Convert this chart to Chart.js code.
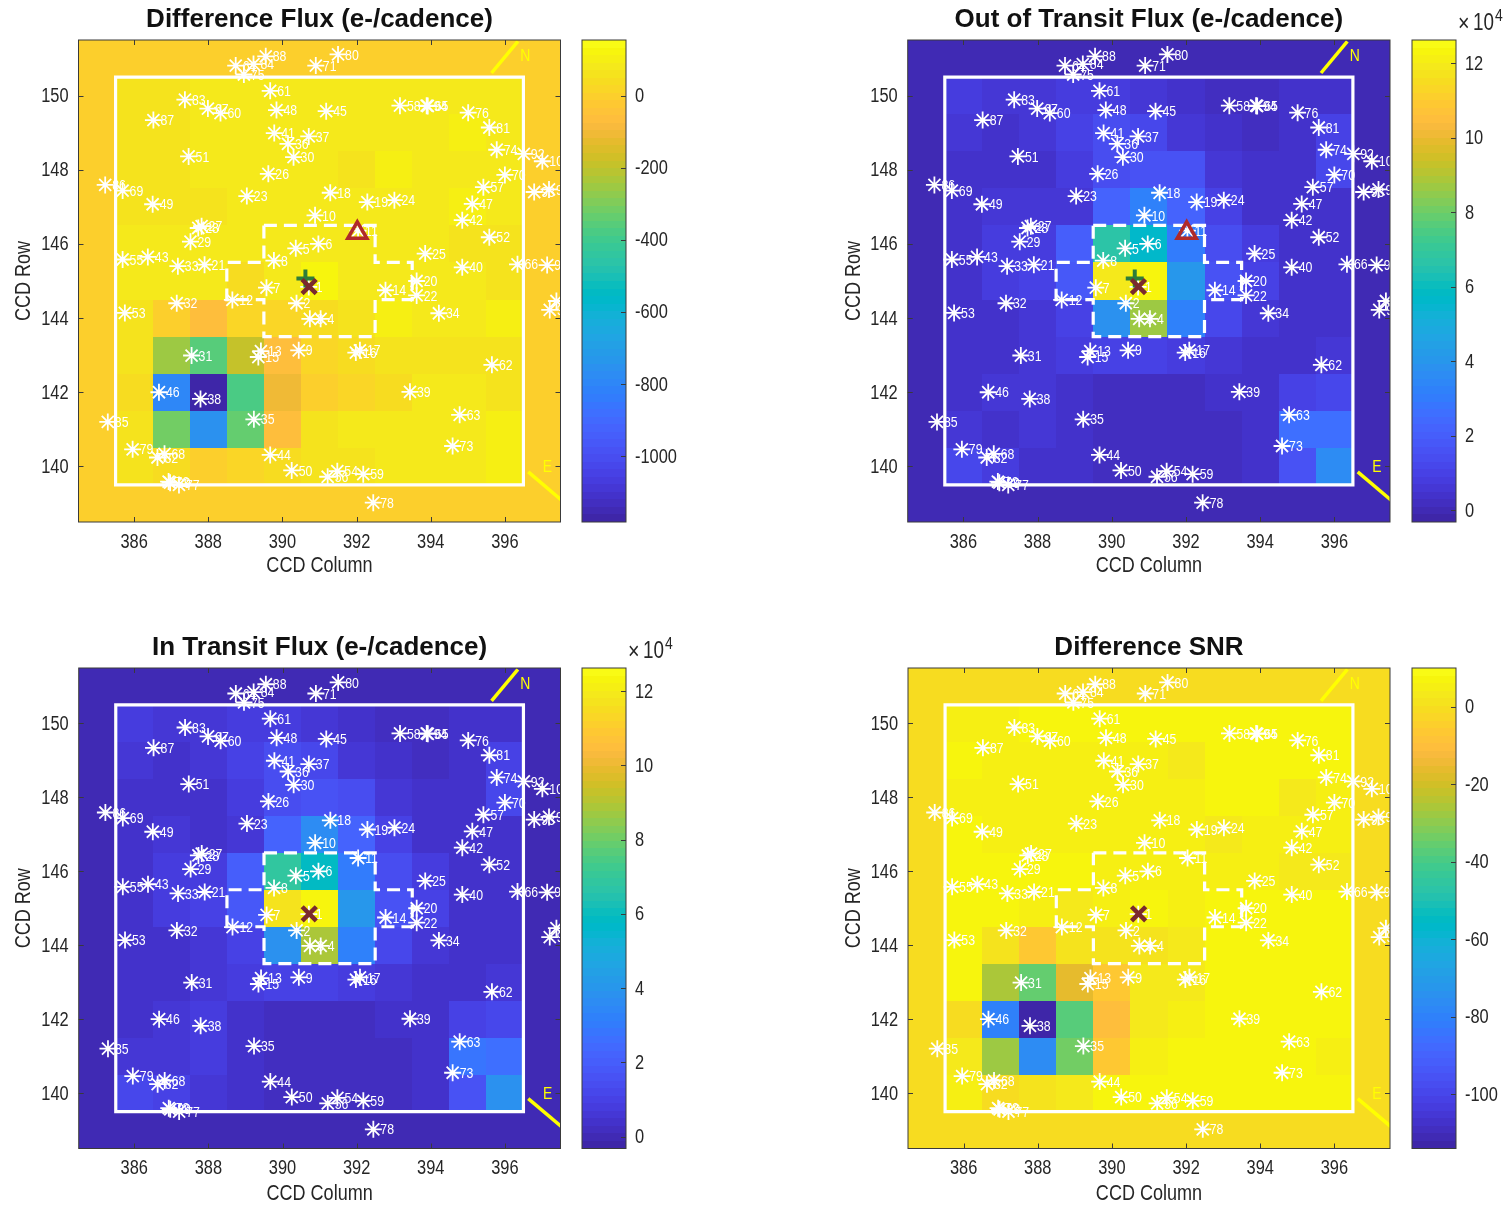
<!DOCTYPE html>
<html><head><meta charset="utf-8">
<script src="https://cdn.jsdelivr.net/npm/chart.js@4"></script>
<style>
html,body{margin:0;padding:0;background:#fff;width:1506px;height:1206px;overflow:hidden}
canvas{position:absolute;display:block}
</style></head><body>
<script>
const columns=[386,387,388,389,390,391,392,393,394,395,396];
const rows=[150,149,148,147,146,145,144,143,142,141,140];
const xTicks=[386,388,390,392,394,396];
const yTicks=[140,142,144,146,148,150];

const diffFlux=[
[70,70,85,90,85,85,85,85,90,85,85],
[70,70,75,75,75,75,75,75,75,95,90],
[70,70,72,72,72,85,65,100,72,72,75],
[70,70,70,72,72,72,72,72,72,95,75],
[72,72,72,72,85,85,75,75,75,70,65],
[72,72,72,35,80,130,85,85,78,75,70],
[70,0,-70,15,25,45,55,110,85,80,105],
[70,-250,-365,-185,-59,25,45,65,70,70,70],
[35,-800,-1183,-380,-110,-5,15,50,80,78,70],
[55,-310,-760,-333,-60,70,72,72,75,80,110],
[60,30,0,25,35,60,65,72,72,72,95]];
const outFlux=[
[.7,.6,.6,.8,.8,.5,.4,.2,.2,.3,.4],
[.5,.45,.5,1.0,1.3,1.1,.6,.3,.15,.35,1.0],
[.4,.4,.4,.7,1.4,1.5,1.5,.6,.4,.4,1.1],
[.45,.6,.5,.5,2.3,3.3,2.2,1.0,.4,.4,.4],
[.4,.7,.8,2.0,6.6,5.7,3.0,1.3,.7,.4,.35],
[.4,.7,.9,1.8,11.9,12.4,4.0,1.5,1.0,.4,.35],
[.4,.4,.6,1.0,3.9,8.7,3.2,1.2,.6,.3,.3],
[.35,.35,.5,.7,1.0,1.0,.8,.5,.4,.3,.6],
[.35,.5,.6,.3,.2,.2,.2,.3,.3,1.0,1.1],
[.6,.4,.5,.3,.2,.15,.2,.15,.3,2.7,2.6],
[1.1,.7,.4,.4,.2,.2,.2,.15,.3,1.5,3.6]];
const inFlux=[
[.7,.6,.6,.8,.8,.5,.35,.15,.15,.3,.35],
[.5,.4,.5,1.0,1.3,1.1,.6,.3,.1,.3,1.0],
[.4,.35,.35,.7,1.4,1.5,1.4,.6,.4,.4,1.1],
[.4,.6,.45,.5,2.3,3.6,2.3,1.0,.4,.4,.4],
[.4,.7,.8,2.1,6.8,5.8,3.0,1.3,.7,.4,.35],
[.4,.7,.9,1.8,11.8,12.4,4.0,1.5,1.0,.4,.35],
[.4,.45,.65,1.0,3.9,8.9,3.2,1.2,.6,.3,.3],
[.35,.35,.55,.75,1.0,1.0,.8,.5,.4,.3,.6],
[.35,.6,.75,.35,.1,.1,.2,.3,.3,1.0,1.1],
[.65,.55,.7,.3,.15,.1,.1,.12,.3,2.8,2.7],
[1.2,.9,.5,.4,.2,.2,.2,.15,.3,1.6,3.8]];
const diffSnr=[
[6,6,8,8,8,8,8,8,8,8,8],
[7,5,5,5,5,6,4,7,7,8,8],
[5,5,5,6,6,6,6,7,7,4,6],
[7,6,6,6,6,6,6,4,6,6,6],
[8,7,7,7,5,5,6,6,5,4,4],
[7,7,6,3,5,7,6,7,8,8,8],
[7,2,-7,1,1,2,3,8,7,8,8],
[8,-26,-35,-17,-6,3,4,7,8,8,8],
[0,-80,-114,-37,-11,3,5,7,8,7,7],
[3,-27,-77,-33,-7,6,8,8,7,7,6],
[6,0,1,4,7,8,8,8,8,8,8]];

const starIds=["88","84","64","75","80","71","61","83","67","60","87","48","45","58","94","65","76","81","41","37","36","30","51","74","92","100","26","70","86","69","57","93","91","49","23","18","19","24","47","10","42","27","28","52","29","5","6","11","55","43","33","21","8","25","40","66","96","7","1","2","14","20","22","12","32","53","34","3","4","13","15","9","16","17","31","62","46","38","39","63","35","85","79","73","68","82","44","50","54","56","59","72","89","77","78","97","98"];
const starCols=[389.55,389.22,388.74,388.96,391.50,390.90,389.67,387.37,387.99,388.33,386.52,389.84,391.18,393.17,393.89,393.92,395.01,395.58,389.78,390.71,390.15,390.30,387.47,395.78,396.51,397.01,389.62,396.00,385.22,385.69,395.42,396.79,397.19,386.50,389.04,391.29,392.29,393.02,395.12,390.88,394.85,387.82,387.73,395.58,387.52,390.36,390.97,392.04,385.69,386.37,387.18,387.90,389.77,393.85,394.85,396.34,397.14,389.57,390.71,390.38,392.78,393.62,393.62,388.65,387.15,385.75,394.22,390.74,391.03,389.42,389.35,390.44,391.98,392.09,387.55,395.65,386.67,387.79,393.44,394.78,389.23,385.29,385.96,394.59,386.82,386.63,389.67,390.25,391.48,391.22,392.18,386.93,386.97,387.21,392.45,397.21,397.39];
const starRows=[151.06,150.85,150.81,150.57,151.11,150.81,150.13,149.89,149.65,149.53,149.34,149.61,149.58,149.73,149.73,149.72,149.54,149.14,148.99,148.90,148.70,148.34,148.36,148.54,148.43,148.23,147.89,147.86,147.59,147.44,147.53,147.40,147.47,147.07,147.29,147.38,147.13,147.18,147.08,146.77,146.64,146.48,146.43,146.18,146.06,145.88,146.00,146.36,145.58,145.65,145.40,145.44,145.55,145.74,145.37,145.45,145.43,144.82,144.84,144.40,144.75,145.00,144.61,144.49,144.40,144.14,144.13,143.98,143.98,143.11,142.95,143.13,143.07,143.13,142.99,142.74,142.00,141.82,142.01,141.39,141.27,141.20,140.46,140.55,140.34,140.24,140.31,139.89,139.87,139.72,139.79,139.59,139.56,139.50,139.02,144.22,144.46];

const boxCols=[385.5,396.5,396.5,385.5,385.5];
const boxRows=[139.5,139.5,150.5,150.5,139.5];
const apCols=[389.5,392.5,392.5,393.5,393.5,392.5,392.5,389.5,389.5,388.5,388.5,389.5,389.5];
const apRows=[146.5,146.5,145.5,145.5,144.5,144.5,143.5,143.5,144.5,144.5,145.5,145.5,146.5];
const northCols=[395.64,396.35], northRows=[150.61,151.46];
const eastCols=[396.63,397.55], eastRows=[139.85,139.07];
const compassLabels=[["N",396.55,151.08],["E",397.15,140.0]];
const targetCol=[390.72], targetRow=[144.85];
const centroidCol=[390.62], centroidRow=[145.07];
const triCol=[392.02], triRow=[146.30];

const parula=[[.2422,.1504,.6603],[.2504,.1650,.7076],[.2578,.1818,.7511],[.2647,.1978,.7952],[.2706,.2147,.8364],[.2751,.2342,.8710],[.2783,.2559,.8991],[.2803,.2782,.9221],[.2813,.3006,.9414],[.2810,.3228,.9579],[.2795,.3447,.9717],[.2760,.3667,.9829],[.2699,.3892,.9906],[.2602,.4123,.9952],[.2440,.4358,.9988],[.2206,.4603,.9973],[.1963,.4847,.9892],[.1834,.5074,.9798],[.1786,.5289,.9682],[.1764,.5499,.9520],[.1687,.5703,.9359],[.1540,.5902,.9218],[.1460,.6091,.9079],[.1380,.6276,.8973],[.1248,.6459,.8883],[.1113,.6635,.8763],[.0952,.6798,.8598],[.0689,.6948,.8394],[.0297,.7082,.8163],[.0036,.7203,.7917],[.0067,.7312,.7660],[.0433,.7411,.7394],[.0964,.7500,.7120],[.1408,.7584,.6842],[.1717,.7670,.6554],[.1938,.7758,.6251],[.2161,.7843,.5923],[.2470,.7918,.5567],[.2906,.7973,.5188],[.3406,.8008,.4789],[.3909,.8029,.4354],[.4456,.8024,.3909],[.5044,.7993,.3480],[.5616,.7942,.3045],[.6174,.7876,.2612],[.6720,.7793,.2227],[.7242,.7698,.1910],[.7738,.7598,.1646],[.8203,.7498,.1535],[.8634,.7406,.1596],[.9035,.7330,.1774],[.9393,.7288,.2100],[.9728,.7298,.2394],[.9956,.7434,.2371],[.9970,.7659,.2199],[.9952,.7861,.1971],[.9892,.8136,.1721],[.9786,.8392,.1494],[.9676,.8639,.1246],[.9610,.8890,.1154],[.9597,.9135,.1066],[.9628,.9373,.0761],[.9691,.9606,.0505],[.9769,.9839,.0805]];
const mapColor=i=>{const c=parula[i];return `rgb(${Math.round(c[0]*255)},${Math.round(c[1]*255)},${Math.round(c[2]*255)})`;};
const valColor=(v,lo,hi)=>mapColor(Math.max(0,Math.min(63,Math.floor((v-lo)/(hi-lo)*64))));

const SANS='"Liberation Sans",sans-serif';
const INK='#262626';
const CONDENSE=0.82;

const panels=[
 {title:"Difference Flux (e-/cadence)",grid:diffFlux,lo:-1183,hi:155,cbTicks:[-1000,-800,-600,-400,-200,0],left:78.5,right:560.5,top:0,h:482,extra:true,exp:false,cbLeft:582},
 {title:"Out of Transit Flux (e-/cadence)",grid:outFlux,lo:-.32,hi:12.62,cbTicks:[0,2,4,6,8,10,12],left:907.7,right:1390,top:0,h:482,extra:true,exp:true,cbLeft:1412},
 {title:"In Transit Flux (e-/cadence)",grid:inFlux,lo:-.32,hi:12.62,cbTicks:[0,2,4,6,8,10,12],left:78.7,right:560.5,top:628,h:480.5,extra:false,exp:true,cbLeft:582},
 {title:"Difference SNR",grid:diffSnr,lo:-114,hi:10,cbTicks:[-100,-80,-60,-40,-20,0],left:908,right:1390,top:628,h:480.5,extra:false,exp:false,cbLeft:1412}
];

const xy=(xs,ys)=>xs.map((x,i)=>({x,y:ys[i]}));
const CANVAS_H=578, AXTOP=40;

function makeCanvas(l,t,w,h){
  const c=document.createElement('canvas');c.width=w;c.height=h;
  c.style.left=l+'px';c.style.top=t+'px';c.style.width=w+'px';c.style.height=h+'px';
  document.body.appendChild(c);
  // non-bold text in the reference is horizontally condensed
  const ctx=c.getContext('2d'),orig=ctx.fillText.bind(ctx);
  ctx.fillText=function(t,x,y){
    if(/bold/.test(ctx.font)) return orig(t,x,y);
    ctx.save();ctx.translate(x,y+(ctx.textBaseline==='middle'?1:0));ctx.scale(CONDENSE,1);orig(t,0,0);ctx.restore();
  };
  return c;
}

const heatPlugin={id:'heat',beforeDatasetsDraw(ch,_,o){
  const {ctx,chartArea:a,scales:{x,y}}=ch;const p=o.panel;
  ctx.save();ctx.beginPath();ctx.rect(a.left,a.top,a.right-a.left,a.bottom-a.top);ctx.clip();
  ctx.fillStyle=valColor(0,p.lo,p.hi);ctx.fillRect(a.left,a.top,a.right-a.left,a.bottom-a.top);
  rows.forEach((r,ri)=>columns.forEach((c,ci)=>{
    const x0=x.getPixelForValue(c-.5),x1=x.getPixelForValue(c+.5),y0=y.getPixelForValue(r+.5),y1=y.getPixelForValue(r-.5);
    ctx.fillStyle=valColor(p.grid[ri][ci],p.lo,p.hi);
    ctx.fillRect(Math.round(x0),Math.round(y0),Math.round(x1)-Math.round(x0),Math.round(y1)-Math.round(y0));
  }));
  ctx.font='15px '+SANS;ctx.fillStyle='#fff';ctx.textAlign='left';ctx.textBaseline='middle';
  starIds.forEach((id,i)=>ctx.fillText(id,x.getPixelForValue(starCols[i])+7,y.getPixelForValue(starRows[i])));
  ctx.font='17px '+SANS;ctx.fillStyle='#ffff00';ctx.textAlign='center';
  compassLabels.forEach(l=>ctx.fillText(l[0],x.getPixelForValue(l[1]),y.getPixelForValue(l[2])));
  ctx.restore();
}};
const framePlugin={id:'frame',afterDraw(ch){
  const {ctx,chartArea:a,scales:{x,y}}=ch;
  ctx.save();ctx.strokeStyle='#3a3a3a';ctx.lineWidth=1;ctx.beginPath();
  xTicks.forEach(t=>{const p=Math.round(x.getPixelForValue(t))+.5;ctx.moveTo(p,a.top);ctx.lineTo(p,a.top+5);ctx.moveTo(p,a.bottom);ctx.lineTo(p,a.bottom-5);});
  yTicks.forEach(t=>{const p=Math.round(y.getPixelForValue(t))+.5;ctx.moveTo(a.left,p);ctx.lineTo(a.left+5,p);ctx.moveTo(a.right,p);ctx.lineTo(a.right-5,p);});
  ctx.stroke();ctx.strokeRect(a.left,a.top,a.right-a.left,a.bottom-a.top);ctx.restore();
}};
const barPlugin={id:'cbar',beforeDatasetsDraw(ch,_,o){
  const {ctx,chartArea:a,scales:{y}}=ch;const p=o.panel;
  parula.forEach((c,i)=>{
    const v0=p.lo+(p.hi-p.lo)*i/64,v1=p.lo+(p.hi-p.lo)*(i+1)/64;
    const y0=Math.round(y.getPixelForValue(v1)),y1=Math.round(y.getPixelForValue(v0));
    ctx.fillStyle=mapColor(i);ctx.fillRect(a.left,y0,a.right-a.left,y1-y0);
  });
},afterDraw(ch,_,o){
  const {ctx,chartArea:a,scales:{y}}=ch;const p=o.panel;
  ctx.save();ctx.strokeStyle='#3a3a3a';ctx.lineWidth=1;ctx.beginPath();
  p.cbTicks.forEach(t=>{const q=Math.round(y.getPixelForValue(t))+.5;ctx.moveTo(a.right,q);ctx.lineTo(a.right-5,q);});
  ctx.stroke();ctx.strokeRect(a.left,a.top,a.right-a.left,a.bottom-a.top);
  if(p.exp){ctx.fillStyle=INK;ctx.textBaseline='alphabetic';ctx.textAlign='left';
    ctx.font='24px '+SANS;ctx.fillText('×',a.right+2,a.top-9);
    ctx.font='23px '+SANS;ctx.fillText('10',a.right+17,a.top-10);
    ctx.font='17px '+SANS;ctx.fillText('4',a.right+39,a.top-19);}
  ctx.restore();
}};

panels.forEach(p=>{
  const base=p.left>500?830:0;
  const W=Math.ceil(p.right)+8-base;
  const c=makeCanvas(base,p.top,W,CANVAS_H);
  const left=p.left-base,right=W-(p.right-base);
  new Chart(c,{type:'scatter',plugins:[heatPlugin,framePlugin],
   data:{datasets:[
    {data:xy(triCol,triRow),pointStyle:'triangle',pointRadius:p.extra?11:0,borderColor:'#b02a2a',backgroundColor:'rgba(0,0,0,0)',borderWidth:3.5,showLine:false},
    {data:xy(targetCol,targetRow),pointStyle:'crossRot',pointRadius:10,borderColor:'#7a2a2e',borderWidth:4.5,showLine:false},
    {data:xy(centroidCol,centroidRow),pointStyle:'cross',pointRadius:p.extra?9:0,borderColor:'#2e7d3a',borderWidth:4,showLine:false},
    {data:xy(starCols,starRows),pointStyle:'star',pointRadius:8.5,borderColor:'#fff',borderWidth:1.8,showLine:false},
    {data:xy(apCols,apRows),showLine:true,pointRadius:0,borderColor:'#fff',borderWidth:3.2,borderDash:[13,7],tension:0},
    {data:xy(boxCols,boxRows),showLine:true,pointRadius:0,borderColor:'#fff',borderWidth:3.2,tension:0,borderCapStyle:'square'},
    {data:xy(northCols,northRows),showLine:true,pointRadius:0,borderColor:'#ffff00',borderWidth:3.5},
    {data:xy(eastCols,eastRows),showLine:true,pointRadius:0,borderColor:'#ffff00',borderWidth:3.5}
   ]},
   options:{responsive:false,animation:false,devicePixelRatio:1,
    layout:{autoPadding:false,padding:{left:0,right,top:0,bottom:0}},
    plugins:{legend:{display:false},tooltip:{enabled:false},
     heat:{panel:p},
     title:{display:true,text:p.title,fullSize:false,color:'#111',font:{family:SANS,size:26,weight:'bold',lineHeight:1},padding:{top:7,bottom:7}}},
    scales:{
     x:{type:'linear',min:384.5,max:397.5,
      afterBuildTicks:s=>{s.ticks=xTicks.map(value=>({value}));},
      afterFit:s=>{s.height=CANVAS_H-AXTOP-p.h;},
      grid:{display:false},border:{display:false},
      ticks:{color:INK,padding:-1,maxRotation:0,autoSkip:false,font:{family:SANS,size:20}},
      title:{display:true,text:'CCD Column',color:INK,font:{family:SANS,size:22,lineHeight:1},padding:{top:0,bottom:2}}},
     y:{type:'linear',min:138.5,max:151.5,
      afterBuildTicks:s=>{s.ticks=yTicks.map(value=>({value}));},
      afterFit:s=>{s.width=left;},
      grid:{display:false},border:{display:false},
      ticks:{color:INK,padding:2,autoSkip:false,font:{family:SANS,size:20}},
      title:{display:true,text:'CCD Row',color:INK,font:{family:SANS,size:22,lineHeight:1},padding:{top:12,bottom:0}}}
    }}
  });
  const cbW=p.cbLeft>1000?106:130;
  const cb=makeCanvas(p.cbLeft-12,p.top,cbW,CANVAS_H);
  new Chart(cb,{type:'scatter',plugins:[barPlugin],data:{datasets:[{data:[],showLine:false}]},
   options:{responsive:false,animation:false,devicePixelRatio:1,
    layout:{autoPadding:false,padding:{left:12,right:0,top:AXTOP,bottom:CANVAS_H-AXTOP-p.h}},
    plugins:{legend:{display:false},tooltip:{enabled:false},cbar:{panel:p}},
    scales:{x:{display:false,min:0,max:1},
     y:{type:'linear',position:'right',min:p.lo,max:p.hi,
      afterBuildTicks:s=>{s.ticks=p.cbTicks.map(value=>({value}));},
      afterFit:s=>{s.width=cbW-12-44;},
      grid:{display:false},border:{display:false},
      ticks:{color:INK,padding:1,autoSkip:false,font:{family:SANS,size:20},callback:v=>String(v)}}}}
  });
});
</script>
</body></html>
